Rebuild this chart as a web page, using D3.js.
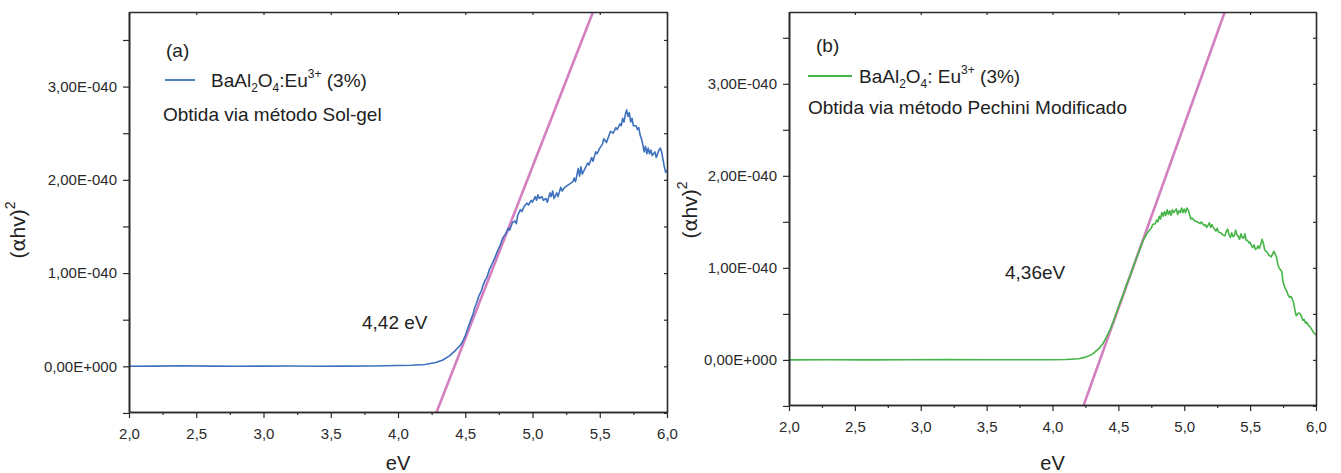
<!DOCTYPE html>
<html>
<head>
<meta charset="utf-8">
<script src="https://cdn.jsdelivr.net/npm/d3@7"></script>
<style>
  html, body { margin: 0; padding: 0; background: #fff; }
  svg { display: block; font-family: "Liberation Sans", Arial, sans-serif; }
</style>
</head>
<body>
<svg id="chart" width="1341" height="473"></svg>
<script>
// Energy ticks (eV) and their labels
const xTicks = [2.0, 2.5, 3.0, 3.5, 4.0, 4.5, 5.0, 5.5, 6.0];
const xTickLabels = ["2,0", "2,5", "3,0", "3,5", "4,0", "4,5", "5,0", "5,5", "6,0"];
// (αhν)² ticks, in units of 1E-040
const yTicks = [0, 1, 2, 3];
const yTickLabels = ["0,00E+000", "1,00E-040", "2,00E-040", "3,00E-040"];

// (a) BaAl2O4:Eu3+ (3%) — sol-gel, Tauc plot: [eV, (αhν)² / 1E-040]
const solGel = [
  [2.00,0.000],[2.20,0.002],[2.40,0.006],[2.60,0.002],[2.80,0.001],[3.00,0.002],[3.20,0.003],
  [3.40,0.001],[3.60,0.002],[3.80,0.004],[4.00,0.008],[4.10,0.012],[4.20,0.020],[4.28,0.040],
  [4.33,0.065],[4.38,0.11],[4.42,0.16],[4.46,0.22],[4.48,0.26],[4.50,0.33],[4.52,0.41],
  [4.54,0.49],[4.56,0.57],[4.57,0.63],[4.58,0.66],[4.60,0.75],[4.62,0.81],[4.63,0.86],
  [4.65,0.93],[4.66,0.95],[4.68,1.04],[4.70,1.10],[4.71,1.13],[4.73,1.20],[4.75,1.27],
  [4.76,1.30],[4.78,1.38],[4.80,1.42],[4.82,1.48],[4.83,1.46],[4.85,1.54],[4.87,1.56],
  [4.88,1.53],[4.89,1.62],[4.91,1.68],[4.92,1.66],[4.94,1.72],[4.96,1.75],[4.97,1.73],
  [4.99,1.78],[5.00,1.76],[5.02,1.82],[5.03,1.78],[5.04,1.84],[5.05,1.80],[5.07,1.82],
  [5.08,1.78],[5.10,1.80],[5.11,1.76],[5.13,1.86],[5.14,1.82],[5.15,1.88],[5.16,1.80],
  [5.18,1.86],[5.19,1.82],[5.21,1.92],[5.22,1.88],[5.24,1.92],[5.26,1.94],[5.28,1.96],
  [5.30,1.98],[5.31,2.02],[5.32,1.98],[5.34,2.12],[5.35,2.04],[5.36,2.14],[5.37,2.06],
  [5.39,2.12],[5.41,2.18],[5.42,2.16],[5.44,2.24],[5.45,2.20],[5.47,2.30],[5.48,2.28],
  [5.50,2.34],[5.52,2.38],[5.53,2.44],[5.55,2.40],[5.57,2.48],[5.58,2.52],[5.60,2.50],
  [5.62,2.56],[5.63,2.54],[5.65,2.60],[5.66,2.58],[5.67,2.66],[5.68,2.62],[5.69,2.70],
  [5.70,2.75],[5.71,2.68],[5.72,2.72],[5.73,2.62],[5.74,2.66],[5.75,2.58],[5.77,2.58],
  [5.78,2.54],[5.79,2.56],[5.80,2.48],[5.81,2.44],[5.82,2.38],[5.83,2.30],[5.84,2.36],
  [5.85,2.28],[5.86,2.34],[5.87,2.28],[5.88,2.32],[5.89,2.26],[5.91,2.30],[5.92,2.24],
  [5.94,2.32],[5.95,2.34],[5.96,2.30],[5.97,2.22],[5.98,2.14],[5.99,2.08],[6.00,2.10]
];

// (b) BaAl2O4: Eu3+ (3%) — modified Pechini
const pechini = [
  [2.00,0.000],[2.30,0.001],[2.60,0.000],[2.90,0.001],[3.20,0.003],[3.50,0.002],[3.80,0.001],
  [4.00,0.002],[4.10,0.004],[4.20,0.012],[4.25,0.030],[4.30,0.060],[4.35,0.12],[4.38,0.17],
  [4.41,0.25],[4.44,0.34],[4.46,0.41],[4.48,0.49],[4.50,0.57],[4.52,0.65],[4.54,0.72],
  [4.56,0.81],[4.58,0.88],[4.60,0.96],[4.62,1.04],[4.64,1.12],[4.66,1.19],[4.68,1.27],
  [4.70,1.33],[4.72,1.38],[4.73,1.40],[4.75,1.43],[4.76,1.47],[4.78,1.48],[4.79,1.52],
  [4.80,1.50],[4.81,1.56],[4.82,1.53],[4.83,1.60],[4.84,1.56],[4.85,1.61],[4.86,1.57],
  [4.87,1.63],[4.88,1.58],[4.89,1.62],[4.90,1.57],[4.91,1.63],[4.92,1.60],[4.94,1.64],
  [4.95,1.58],[4.96,1.62],[4.97,1.60],[4.98,1.65],[4.99,1.60],[5.00,1.64],[5.01,1.60],
  [5.02,1.65],[5.03,1.63],[5.04,1.58],[5.05,1.53],[5.06,1.54],[5.08,1.51],[5.10,1.50],
  [5.12,1.48],[5.13,1.50],[5.15,1.46],[5.16,1.47],[5.17,1.44],[5.18,1.46],[5.19,1.49],
  [5.20,1.44],[5.21,1.47],[5.22,1.44],[5.24,1.40],[5.25,1.43],[5.26,1.39],[5.28,1.38],
  [5.29,1.36],[5.31,1.35],[5.32,1.40],[5.33,1.42],[5.34,1.36],[5.35,1.33],[5.36,1.38],
  [5.37,1.34],[5.38,1.35],[5.39,1.41],[5.40,1.36],[5.41,1.34],[5.42,1.31],[5.43,1.37],
  [5.44,1.33],[5.45,1.32],[5.46,1.37],[5.47,1.30],[5.48,1.30],[5.49,1.27],[5.50,1.28],
  [5.51,1.24],[5.52,1.22],[5.53,1.25],[5.54,1.20],[5.55,1.21],[5.56,1.24],[5.57,1.21],
  [5.58,1.25],[5.59,1.31],[5.60,1.27],[5.61,1.20],[5.62,1.18],[5.63,1.17],[5.64,1.14],
  [5.65,1.13],[5.66,1.12],[5.67,1.15],[5.68,1.18],[5.69,1.15],[5.70,1.12],[5.71,1.04],
  [5.72,1.00],[5.73,0.98],[5.74,0.96],[5.75,0.85],[5.76,0.80],[5.77,0.77],[5.78,0.74],
  [5.79,0.70],[5.80,0.68],[5.81,0.69],[5.82,0.66],[5.83,0.62],[5.84,0.54],[5.85,0.48],
  [5.86,0.50],[5.87,0.51],[5.88,0.50],[5.89,0.47],[5.90,0.43],[5.91,0.44],[5.92,0.40],
  [5.93,0.41],[5.94,0.38],[5.96,0.35],[5.98,0.30],[6.00,0.27]
];

// Linear fits to the absorption edge: band gap (x-intercept, eV) and slope
const bandGaps = [4.42, 4.36];
const gapLabels = ["4,42 eV", "4,36eV"];
const fitSlopes = [3.69, 3.99];

const panels = [
  {
    data: solGel, color: "#3d71bd", tag: "(a)", gap: bandGaps[0], slope: fitSlopes[0], gapLabel: gapLabels[0],
    method: "Obtida via método Sol-gel", colon: ":", lineLen: 30, textGap: 46,
    box: { left: 129, right: 667, top: 12, bottom: 412 }, yDomain: [-0.49, 3.8],
    tagPos: [166, 57], legPos: [165, 80], methodPos: [163, 121], gapPos: [362, 329],
    yTitle: [25, 230]
  },
  {
    data: pechini, color: "#45b547", tag: "(b)", gap: bandGaps[1], slope: fitSlopes[1], gapLabel: gapLabels[1],
    method: "Obtida via método Pechini Modificado", colon: ": ", lineLen: 44, textGap: 51,
    box: { left: 789, right: 1316, top: 12, bottom: 405 }, yDomain: [-0.49, 3.78],
    tagPos: [816, 52], legPos: [808, 76], methodPos: [808, 114], gapPos: [1005, 279],
    yTitle: [697, 210]
  }
];

const svg = d3.select("#chart");
const axisColor = "#2b2b2b";
const textColor = "#222";

panels.forEach((p, i) => {
  const b = p.box;
  const x = d3.scaleLinear().domain([2, 6]).range([b.left, b.right]);
  const y = d3.scaleLinear().domain(p.yDomain).range([b.bottom, b.top]);
  const g = svg.append("g");

  const clipId = "clip" + i;
  svg.append("defs").append("clipPath").attr("id", clipId)
    .append("rect").attr("x", b.left).attr("y", b.top)
    .attr("width", b.right - b.left).attr("height", b.bottom - b.top);

  // tangent (linear fit) line
  const fitLine = [[p.gap + p.yDomain[0] / p.slope, p.yDomain[0]], [p.gap + p.yDomain[1] / p.slope, p.yDomain[1]]];
  g.append("path")
    .attr("clip-path", `url(#${clipId})`)
    .attr("d", d3.line().x(d => x(d[0])).y(d => y(d[1]))(fitLine))
    .attr("fill", "none").attr("stroke", "#d47fbf").attr("stroke-width", 2.6);

  // spectrum
  g.append("path")
    .attr("clip-path", `url(#${clipId})`)
    .attr("d", d3.line().x(d => x(d[0])).y(d => y(d[1]))(p.data))
    .attr("fill", "none").attr("stroke", p.color).attr("stroke-width", 1.6)
    .attr("stroke-linejoin", "round");

  // axes: bottom
  const minorX = d3.range(2, 6.001, 0.25).filter(v => Math.abs(v * 2 - Math.round(v * 2)) > 1e-6);
  g.append("g").attr("transform", `translate(0,${b.bottom})`)
    .call(d3.axisBottom(x).tickValues(xTicks).tickFormat((d, k) => xTickLabels[k]).tickSize(6).tickSizeOuter(0).tickPadding(10));
  g.append("g").attr("transform", `translate(0,${b.bottom})`)
    .call(d3.axisBottom(x).tickValues(minorX).tickFormat("").tickSize(3).tickSizeOuter(0));
  // top
  g.append("g").attr("transform", `translate(0,${b.top})`)
    .call(d3.axisBottom(x).tickValues(xTicks).tickFormat("").tickSize(3).tickSizeOuter(0));
  // left
  const minorY = [-0.5, 0.5, 1.5, 2.5, 3.5].filter(v => v >= p.yDomain[0] - 0.02);
  g.append("g").attr("transform", `translate(${b.left},0)`)
    .call(d3.axisLeft(y).tickValues(yTicks).tickFormat((d, k) => yTickLabels[k]).tickSize(6).tickSizeOuter(0).tickPadding(6));
  g.append("g").attr("transform", `translate(${b.left},0)`)
    .call(d3.axisLeft(y).tickValues(minorY).tickFormat("").tickSize(6).tickSizeOuter(0));
  // right
  g.append("g").attr("transform", `translate(${b.right},0)`)
    .call(d3.axisLeft(y).tickValues(yTicks.concat(minorY)).tickFormat("").tickSize(3).tickSizeOuter(0));

  g.selectAll(".domain").attr("stroke", axisColor).attr("stroke-width", 1.6);
  g.selectAll(".tick line").attr("stroke", axisColor).attr("stroke-width", 1.2);
  g.selectAll(".tick text").attr("fill", "#2a2a2a").attr("font-size", 15)
    .attr("font-family", "Liberation Sans, Arial, sans-serif");

  // axis titles
  g.append("text").attr("x", (b.left + b.right) / 2).attr("y", 470)
    .attr("text-anchor", "middle").attr("font-size", 20).attr("fill", textColor).text("eV");
  const yt = g.append("text")
    .attr("transform", `translate(${p.yTitle[0]},${p.yTitle[1]}) rotate(-90)`)
    .attr("text-anchor", "middle").attr("font-size", 21).attr("fill", textColor);
  yt.append("tspan").text("(");
  yt.append("tspan").attr("font-family", "DejaVu Sans, sans-serif").attr("font-size", 20).text("α");
  yt.append("tspan").text("hv)");
  yt.append("tspan").attr("font-size", 14).attr("dy", -10).text("2");

  // panel tag
  g.append("text").attr("x", p.tagPos[0]).attr("y", p.tagPos[1])
    .attr("font-size", 19).attr("fill", textColor).text(p.tag);

  // legend entry
  g.append("line").attr("x1", p.legPos[0]).attr("x2", p.legPos[0] + p.lineLen)
    .attr("y1", p.legPos[1]).attr("y2", p.legPos[1])
    .attr("stroke", p.color).attr("stroke-width", 1.8);
  const lt = g.append("text").attr("x", p.legPos[0] + p.textGap).attr("y", p.legPos[1] + 7)
    .attr("font-size", 19).attr("fill", textColor);
  lt.append("tspan").text("BaAl");
  lt.append("tspan").attr("font-size", 12).attr("dy", 5).text("2");
  lt.append("tspan").attr("dy", -5).text("O");
  lt.append("tspan").attr("font-size", 12).attr("dy", 5).text("4");
  lt.append("tspan").attr("dy", -5).text(p.colon + "Eu");
  lt.append("tspan").attr("font-size", 12).attr("dy", -9).text("3+");
  lt.append("tspan").attr("dy", 9).text(" (3%)");

  g.append("text").attr("x", p.methodPos[0]).attr("y", p.methodPos[1])
    .attr("font-size", 19).attr("fill", textColor).text(p.method);

  // band-gap annotation
  g.append("text").attr("x", p.gapPos[0]).attr("y", p.gapPos[1])
    .attr("font-size", 19).attr("fill", textColor).text(p.gapLabel);
});
</script>
</body>
</html>
